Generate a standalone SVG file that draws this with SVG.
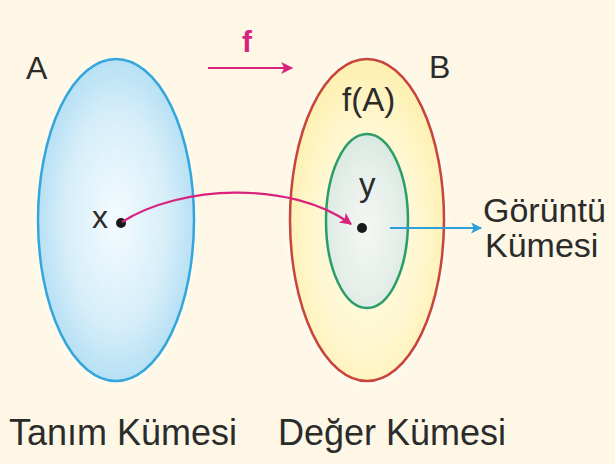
<svg xmlns="http://www.w3.org/2000/svg" width="615" height="464" viewBox="0 0 615 464">
  <defs>
    <radialGradient id="gA" cx="0.5" cy="0.5" r="0.55">
      <stop offset="0" stop-color="#F4FBFE"/>
      <stop offset="0.6" stop-color="#D6EEF9"/>
      <stop offset="1" stop-color="#AEDCF3"/>
    </radialGradient>
    <radialGradient id="gB" cx="0.5" cy="0.55" r="0.55">
      <stop offset="0" stop-color="#FFFCE8"/>
      <stop offset="0.6" stop-color="#FFF7D2"/>
      <stop offset="1" stop-color="#FEF0B0"/>
    </radialGradient>
    <radialGradient id="gC" cx="0.5" cy="0.55" r="0.55">
      <stop offset="0" stop-color="#F4F7F3"/>
      <stop offset="0.7" stop-color="#E5EEE9"/>
      <stop offset="1" stop-color="#D8E9E1"/>
    </radialGradient>
    <filter id="glow" x="-20%" y="-20%" width="140%" height="140%">
      <feGaussianBlur stdDeviation="5"/>
    </filter>
    <marker id="mPink" viewBox="0 0 10 10" refX="9" refY="5" markerWidth="22" markerHeight="12" markerUnits="userSpaceOnUse" orient="auto">
      <path d="M0,0 L10,5 L0,10 L2.5,5 Z" fill="#D8237E"/>
    </marker>
    <marker id="mBlue" viewBox="0 0 10 10" refX="9" refY="5" markerWidth="20" markerHeight="11" markerUnits="userSpaceOnUse" orient="auto">
      <path d="M0,0 L10,5 L0,10 L2.5,5 Z" fill="#2E9FDA"/>
    </marker>
  </defs>
  <style>
    .lbl { font-family: "Liberation Sans", Arial, sans-serif; fill: #2B2B2B; }
  </style>
  <rect x="0" y="0" width="615" height="464" fill="#FEF7E6"/>

  <g id="setA">
    <ellipse cx="116" cy="221" rx="80" ry="164" fill="#FFFFFF" opacity="0.6" filter="url(#glow)"/>
    <ellipse cx="116" cy="220" rx="78" ry="161" fill="url(#gA)" stroke="#35A6DC" stroke-width="2.5"/>
    <text class="lbl" x="26" y="79" font-size="32">A</text>
  </g>

  <g id="setB">
    <ellipse cx="367" cy="221" rx="79" ry="164" fill="#FFFFFF" opacity="0.6" filter="url(#glow)"/>
    <ellipse cx="367" cy="220" rx="77" ry="161" fill="url(#gB)" stroke="#C8443C" stroke-width="2.5"/>
    <text class="lbl" x="429" y="78" font-size="32">B</text>
    <text class="lbl" x="342" y="111" font-size="33">f(A)</text>
  </g>

  <g id="image">
    <ellipse cx="367" cy="221" rx="41" ry="87" fill="url(#gC)" stroke="#2A9E68" stroke-width="2.5"/>
  </g>

  <g id="pointX">
    <circle cx="121" cy="223" r="5" fill="#1A1A1A"/>
    <text class="lbl" x="92" y="228" font-size="32">x</text>
  </g>

  <g id="pointY">
    <circle cx="362" cy="228" r="5" fill="#1A1A1A"/>
    <text class="lbl" x="359" y="196" font-size="33">y</text>
  </g>

  <g id="labelImage">
    <text class="lbl" x="483" y="222" font-size="34">Görüntü</text>
    <text class="lbl" x="485" y="257" font-size="34">Kümesi</text>
  </g>

  <g id="labelDomain">
    <text class="lbl" x="9" y="445" font-size="36">Tanım Kümesi</text>
  </g>
  <g id="labelCodomain">
    <text class="lbl" x="278" y="445" font-size="36">Değer Kümesi</text>
  </g>

  <g id="connectors">
    <path d="M122,222 C180,185 290,180 351,224" fill="none" stroke="#D8237E" stroke-width="2.2" marker-end="url(#mPink)"/>
    <path d="M390,228 L481,228" fill="none" stroke="#2E9FDA" stroke-width="2" marker-end="url(#mBlue)"/>
    <path d="M208,68 L292,68" fill="none" stroke="#D8237E" stroke-width="2.2" marker-end="url(#mPink)"/>
    <text x="242" y="52" font-family="Liberation Sans, Arial, sans-serif" font-weight="bold" font-size="30" fill="#D8237E">f</text>
  </g>
</svg>
